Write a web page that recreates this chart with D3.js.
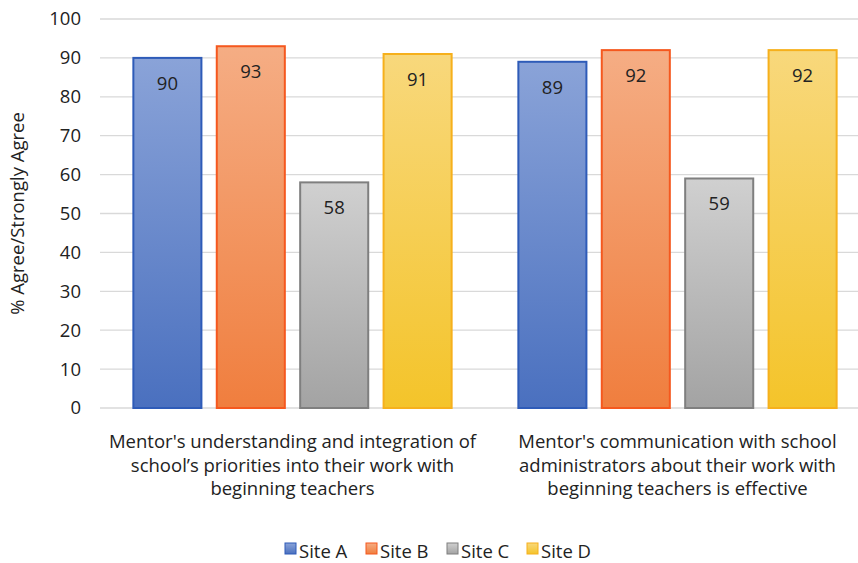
<!DOCTYPE html>
<html>
  <head>
    <meta http-equiv="Content-Type" content="text/html;charset=utf-8">
    <title>Mentor survey</title>
    <script src="https://cdn.jsdelivr.net/npm/d3@7"></script>
    <style type="text/css">
body {
    margin: 0;
    background: #fff;
}
text {
    font-family: "Open Sans", sans-serif;
    fill: #222;
}
.grid line {
    stroke: #d9d9d9;
    stroke-width: 1.3px;
}
    </style>
  </head>
  <body>
    <script type="text/javascript">
// data
var categories = [
    ["Mentor's understanding and integration of", "school\u2019s priorities into their work with", "beginning teachers"],
    ["Mentor's communication with school", "administrators about their work with", "beginning teachers is effective"]
];
var sites = ['Site A', 'Site B', 'Site C', 'Site D'];
var siteA = [90, 89],
    siteB = [93, 92],
    siteC = [58, 59],
    siteD = [91, 92];
var yTicks = [0, 10, 20, 30, 40, 50, 60, 70, 80, 90, 100];

var series = [siteA, siteB, siteC, siteD];
var palette = [
    {top: '#8aa3d8', bottom: '#4a70bf', stroke: '#2e5bb8'},
    {top: '#f5ad84', bottom: '#f07e3e', stroke: '#f5581e'},
    {top: '#d0d0d0', bottom: '#a3a3a3', stroke: '#7f7f7f'},
    {top: '#f8d87c', bottom: '#f4c42a', stroke: '#f6b01c'}
];

// chart
var w = 858,
    h = 563,
    plotLeft = 100,
    plotRight = 870,
    plotTop = 19,
    plotBottom = 408,
    fs = '18.5px';

var svg = d3.select('body').append('svg')
    .attr('width', w)
    .attr('height', h);

var defs = svg.append('defs');
palette.forEach(function(p, i) {
    var g = defs.append('linearGradient')
        .attr('id', 'grad' + i)
        .attr('x1', 0).attr('x2', 0).attr('y1', 0).attr('y2', 1);
    g.append('stop').attr('offset', '0%').attr('stop-color', p.top);
    g.append('stop').attr('offset', '100%').attr('stop-color', p.bottom);
});

var y = d3.scaleLinear().domain([0, 100]).range([plotBottom, plotTop]);
var x0 = d3.scaleBand().domain(d3.range(categories.length)).range([plotLeft, plotRight]);
var x1 = d3.scaleBand().domain(d3.range(sites.length))
    .range([0, x0.bandwidth()])
    .paddingInner(0.184)
    .paddingOuter(0.4);

// gridlines
svg.append('g')
    .attr('class', 'grid')
    .selectAll('line')
    .data(yTicks)
  .enter().append('line')
    .attr('x1', plotLeft)
    .attr('x2', w)
    .attr('y1', function(d) { return y(d) })
    .attr('y2', function(d) { return y(d) });

// y axis
var yAxis = svg.append('g')
    .attr('transform', 'translate(' + plotLeft + ',0)')
    .call(d3.axisLeft(y).tickValues(yTicks).tickSize(0).tickPadding(19));
yAxis.select('.domain').remove();
yAxis.selectAll('text')
    .style('font-size', fs)
    .style('font-family', '"Open Sans", sans-serif')
    .attr('fill', '#222');

svg.append('text')
    .attr('transform', 'translate(24,' + ((plotTop + plotBottom) / 2) + ') rotate(-90)')
    .attr('text-anchor', 'middle')
    .style('font-size', fs)
    .text('% Agree/Strongly Agree');

// bars
var groups = svg.selectAll('g.cat')
    .data(categories)
  .enter().append('g')
    .attr('class', 'cat')
    .attr('transform', function(d, i) { return 'translate(' + x0(i) + ',0)' });

groups.each(function(d, ci) {
    var g = d3.select(this);
    var vals = series.map(function(s) { return s[ci] });
    g.selectAll('rect')
        .data(vals)
      .enter().append('rect')
        .attr('x', function(v, i) { return x1(i) })
        .attr('y', function(v) { return y(v) })
        .attr('width', x1.bandwidth())
        .attr('height', function(v) { return y(0) - y(v) })
        .attr('fill', function(v, i) { return 'url(#grad' + i + ')' })
        .attr('stroke', function(v, i) { return palette[i].stroke })
        .attr('stroke-width', 2);
    g.selectAll('text.val')
        .data(vals)
      .enter().append('text')
        .attr('class', 'val')
        .attr('x', function(v, i) { return x1(i) + x1.bandwidth() / 2 })
        .attr('y', function(v) { return y(v) + 32 })
        .attr('text-anchor', 'middle')
        .style('font-size', fs)
        .text(function(v) { return v });
    g.append('text')
        .attr('x', x0.bandwidth() / 2)
        .attr('y', 448)
        .attr('text-anchor', 'middle')
        .style('font-size', fs)
      .selectAll('tspan')
        .data(d)
      .enter().append('tspan')
        .attr('x', x0.bandwidth() / 2)
        .attr('dy', function(t, i) { return i ? 23.5 : 0 })
        .text(function(t) { return t });
});

// legend
var legendX = [285, 366, 447, 527];
var legend = svg.selectAll('g.legend')
    .data(sites)
  .enter().append('g')
    .attr('class', 'legend')
    .attr('transform', function(d, i) { return 'translate(' + legendX[i] + ',543)' });
legend.append('rect')
    .attr('width', 11)
    .attr('height', 11)
    .attr('fill', function(d, i) { return 'url(#grad' + i + ')' })
    .attr('stroke', function(d, i) { return palette[i].stroke })
    .attr('stroke-width', 1);
legend.append('text')
    .attr('x', 14)
    .attr('y', 15)
    .style('font-size', fs)
    .text(function(d) { return d });
    </script>
  </body>
</html>
